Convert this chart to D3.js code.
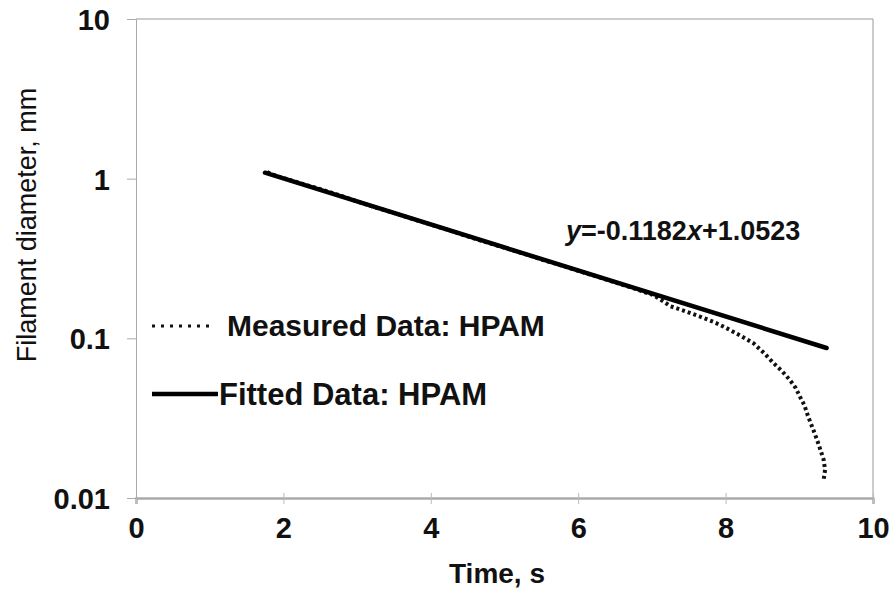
<!DOCTYPE html>
<html>
<head>
<meta charset="utf-8">
<script src="https://cdn.jsdelivr.net/npm/d3@7"></script>
<style>
  body { margin: 0; background: #fff; }
  text { font-family: "Liberation Sans", Arial, sans-serif; font-weight: bold; }
</style>
</head>
<body>
<svg width="894" height="594"></svg>
<script>
// measured filament diameter (mm) vs time (s)
var measuredTime = [1.78, 1.9, 2.0, 2.25, 2.5, 2.75, 3.0, 3.25, 3.5, 3.75, 4.0, 4.25, 4.5, 4.75, 5.0,
  5.25, 5.5, 5.75, 6.0, 6.25, 6.5, 6.75, 7.0, 7.11, 7.25, 7.45, 7.65, 7.85, 8.01, 8.2, 8.38,
  8.52, 8.65, 8.77, 8.87, 8.95, 9.01, 9.07, 9.12, 9.18, 9.24, 9.29, 9.33, 9.35, 9.33];
var measuredDiam = [1.1, 1.04, 1.01, 0.93, 0.86, 0.79, 0.72, 0.66, 0.61, 0.56, 0.515, 0.475, 0.435, 0.40, 0.369,
  0.34, 0.312, 0.288, 0.265, 0.244, 0.224, 0.206, 0.188, 0.176, 0.159, 0.148, 0.137, 0.126, 0.116, 0.104, 0.093,
  0.081, 0.070, 0.062, 0.055, 0.049, 0.043, 0.038, 0.0324, 0.0275, 0.0232, 0.0198, 0.0174, 0.015, 0.013];
// fitted line end points
var fittedTime = [1.75, 9.37];
var fittedDiam = [1.09, 0.087];

var xTicks = [0, 2, 4, 6, 8, 10];
var yTicks = [0.01, 0.1, 1, 10];
var yTickLabels = ["0.01", "0.1", "1", "10"];

var margin = { top: 19, right: 21, bottom: 96, left: 136 };
var svg = d3.select("svg");
var width = 894 - margin.left - margin.right,
    height = 594 - margin.top - margin.bottom;

var x = d3.scaleLinear().domain([0, 10]).range([0, width]);
var y = d3.scaleLog().domain([0.01, 10]).range([height, 0]);

var g = svg.append("g").attr("transform", "translate(" + margin.left + "," + margin.top + ")");

// frame
g.append("line").attr("x1", 0).attr("x2", width).attr("y1", 0).attr("y2", 0)
  .attr("stroke", "#999").attr("stroke-width", 1);
g.append("line").attr("x1", width).attr("x2", width).attr("y1", 0).attr("y2", height)
  .attr("stroke", "#999").attr("stroke-width", 1);

var xAxis = g.append("g").attr("transform", "translate(0," + height + ")")
  .call(d3.axisBottom(x).tickValues(xTicks).tickSize(6).tickPadding(13));
xAxis.select(".domain").attr("stroke", "#aaa").attr("stroke-width", 2.5);
xAxis.selectAll(".tick line").attr("stroke", "#bbb").attr("y1", -5);
xAxis.selectAll("text").style("font-size", "29px").attr("fill", "#111");

var yAxis = g.append("g")
  .call(d3.axisLeft(y).tickValues(yTicks).tickFormat(function (d, i) { return yTickLabels[i]; })
    .tickSize(9).tickPadding(17));
yAxis.select(".domain").attr("stroke", "#aaa").attr("stroke-width", 1);
yAxis.selectAll(".tick line").attr("stroke", "#aaa");
yAxis.selectAll("text").style("font-size", "29px").attr("fill", "#111").attr("dy", "0.36em");

var line = d3.line().x(function (d) { return x(d[0]); }).y(function (d) { return y(d[1]); });

var measured = measuredTime.map(function (t, i) { return [t, measuredDiam[i]]; });
var fitted = fittedTime.map(function (t, i) { return [t, fittedDiam[i]]; });

g.append("path").datum(measured).attr("d", line)
  .attr("fill", "none").attr("stroke", "#111").attr("stroke-width", 4)
  .attr("stroke-dasharray", "3,3");

g.append("path").datum(fitted).attr("d", line)
  .attr("fill", "none").attr("stroke", "#000").attr("stroke-width", 4.5)
  .attr("stroke-linecap", "round");

// equation label
var eq = svg.append("text").attr("x", 566).attr("y", 240).style("font-size", "27px").attr("fill", "#111");
eq.append("tspan").attr("font-style", "italic").text("y");
eq.append("tspan").text("=-0.1182");
eq.append("tspan").attr("font-style", "italic").text("x");
eq.append("tspan").text("+1.0523");

// legend
svg.append("line").attr("x1", 152).attr("x2", 215).attr("y1", 326).attr("y2", 326)
  .attr("stroke", "#111").attr("stroke-width", 3).attr("stroke-dasharray", "3,6");
svg.append("text").attr("x", 227).attr("y", 336).style("font-size", "30px").attr("fill", "#111")
  .text("Measured Data: HPAM");
svg.append("line").attr("x1", 152).attr("x2", 218).attr("y1", 394).attr("y2", 394)
  .attr("stroke", "#000").attr("stroke-width", 4.5);
svg.append("text").attr("x", 219).attr("y", 405).style("font-size", "31px").attr("fill", "#111")
  .text("Fitted Data: HPAM");

// axis titles
svg.append("text").attr("x", 497).attr("y", 583).attr("text-anchor", "middle")
  .style("font-size", "28px").attr("fill", "#111").text("Time, s");
svg.append("text").attr("transform", "translate(36,225) rotate(-90)")
  .attr("text-anchor", "middle").style("font-size", "27px").style("font-weight", "normal")
  .attr("fill", "#111").text("Filament diameter, mm");
</script>
</body>
</html>
